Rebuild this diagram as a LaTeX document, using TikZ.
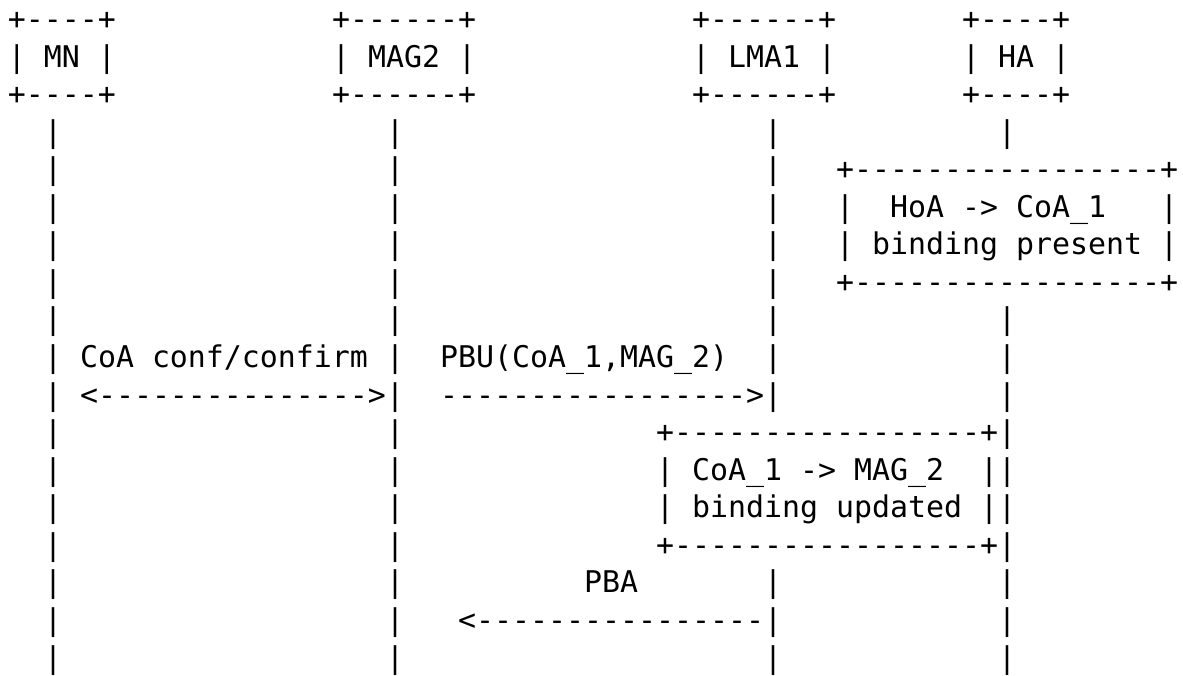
\documentclass[tikz,border=0pt]{standalone}
\usepackage{fontspec}
\newfontfamily\asciifont{DejaVu Sans Mono}
\tikzset{asc/.style={anchor=base west, inner sep=0pt, outer sep=0pt, text=black,
  font=\asciifont\fontsize{29.9}{36}\selectfont}}
% place text at character column #2 and text row #3
\newcommand\putascii[4]{\node[asc] (#1) at ({8+18*#2},{676-37.56*(#3-1)-29.5}) {#4};}
\begin{document}
\begin{tikzpicture}[x=1pt,y=1pt]
\fill[white] (0,0) rectangle (1183,676);
\useasboundingbox (0,0) rectangle (1183,676);
% participant boxes
\putascii{mnT}{0}{1}{+----+}
\putascii{mnM}{0}{2}{| MN |}
\putascii{mnB}{0}{3}{+----+}
\putascii{magT}{18}{1}{+------+}
\putascii{magM}{18}{2}{| MAG2 |}
\putascii{magB}{18}{3}{+------+}
\putascii{lmaT}{38}{1}{+------+}
\putascii{lmaM}{38}{2}{| LMA1 |}
\putascii{lmaB}{38}{3}{+------+}
\putascii{haT}{53}{1}{+----+}
\putascii{haM}{53}{2}{| HA |}
\putascii{haB}{53}{3}{+----+}
% lifelines
\foreach \r in {4,...,18}{\putascii{mnL\r}{2}{\r}{|}}
\foreach \r in {4,...,18}{\putascii{magL\r}{21}{\r}{|}}
\foreach \r in {4,...,11,16,17,18}{\putascii{lmaL\r}{42}{\r}{|}}
\foreach \r in {4,9,10,...,18}{\putascii{haL\r}{55}{\r}{|}}
% HA binding box
\putascii{hbT}{46}{5}{+-----------------+}
\putascii{hbL6}{46}{6}{|}
\putascii{hbA}{49}{6}{HoA -> CoA\_1}
\putascii{hbR6}{64}{6}{|}
\putascii{hbL7}{46}{7}{|}
\putascii{hbB}{48}{7}{binding present}
\putascii{hbR7}{64}{7}{|}
\putascii{hbBot}{46}{8}{+-----------------+}
% messages
\putascii{coaLbl}{4}{10}{CoA conf/confirm}
\putascii{pbuLbl}{24}{10}{PBU(CoA\_1,MAG\_2)}
\putascii{coaArr}{4}{11}{<--------------->}
\putascii{pbuArr}{24}{11}{----------------->}
% LMA binding box
\putascii{lbT}{36}{12}{+-----------------+}
\putascii{lbL13}{36}{13}{|}
\putascii{lbA}{38}{13}{CoA\_1 -> MAG\_2}
\putascii{lbR13}{54}{13}{|}
\putascii{lbL14}{36}{14}{|}
\putascii{lbB}{38}{14}{binding updated}
\putascii{lbR14}{54}{14}{|}
\putascii{lbBot}{36}{15}{+-----------------+}
% PBA
\putascii{pbaLbl}{32}{16}{PBA}
\putascii{pbaArr}{25}{17}{<----------------}
\end{tikzpicture}
\end{document}
